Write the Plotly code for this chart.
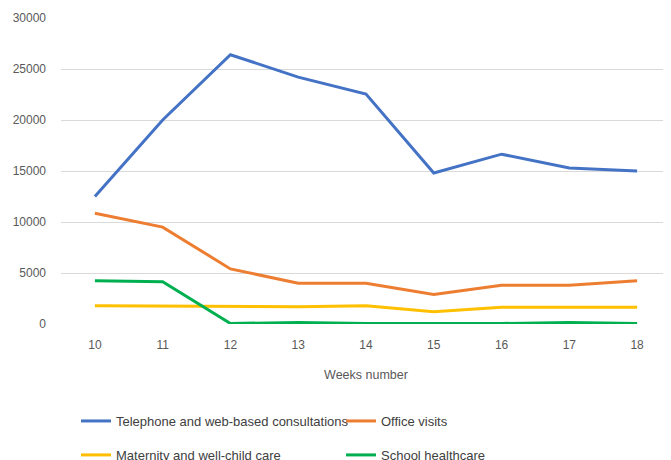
import plotly.graph_objects as go

weeks = [10, 11, 12, 13, 14, 15, 16, 17, 18]
telephone = [12500, 20000, 26400, 24200, 22550, 14800, 16650, 15300, 15000]
office = [10850, 9500, 5400, 4000, 4000, 2900, 3800, 3800, 4250]
maternity = [1800, 1750, 1700, 1700, 1800, 1200, 1650, 1650, 1650]
school = [4250, 4150, 50, 150, 50, 50, 50, 150, 50]
y_ticks = [0, 5000, 10000, 15000, 20000, 25000, 30000]

names = ["Telephone and web-based consultations", "Office visits",
         "Maternity and well-child care", "School healthcare"]
colors = ["#4472C4", "#ED7D31", "#FFC000", "#00B050"]
series = [telephone, office, maternity, school]
legends = ["legend", "legend", "legend2", "legend2"]

FONT = "Liberation Sans, Arial, sans-serif"

fig = go.Figure()
for n, c, s, lg in zip(names, colors, series, legends):
    fig.add_trace(go.Scatter(x=weeks, y=s, name=n, mode="lines",
                             line=dict(color=c, width=3), legend=lg))

legend_common = dict(orientation="h", xanchor="left", yanchor="middle",
                     font=dict(family=FONT, size=13, color="#404040"),
                     entrywidth=220, entrywidthmode="pixels",
                     bgcolor="rgba(0,0,0,0)", itemwidth=30)

fig.update_layout(
    width=663, height=452,
    margin=dict(l=53, r=0, t=10, b=136, autoexpand=False),
    paper_bgcolor="white", plot_bgcolor="white",
    font=dict(family=FONT, size=12, color="#595959"),
    showlegend=True,
    legend=dict(x=0.0246, y=-0.317, **legend_common),
    legend2=dict(x=0.0246, y=-0.428, **legend_common),
    xaxis=dict(range=[9.5, 18.5], tickvals=weeks, ticktext=[str(w) for w in weeks],
               showgrid=False, zeroline=False, showline=False, ticks="",
               ticklabelstandoff=12,
               tickfont=dict(size=12, color="#595959"),
               title=dict(text="Weeks number", font=dict(size=12.5, color="#595959"), standoff=19)),
    yaxis=dict(range=[0, 30000], tickvals=y_ticks, ticktext=[str(v) for v in y_ticks],
               showgrid=True, gridcolor="#D9D9D9", gridwidth=1, zeroline=False,
               showline=False, ticks="", ticklabelstandoff=14,
               tickfont=dict(size=12, color="#595959")),
)

fig.write_html("out.html")
